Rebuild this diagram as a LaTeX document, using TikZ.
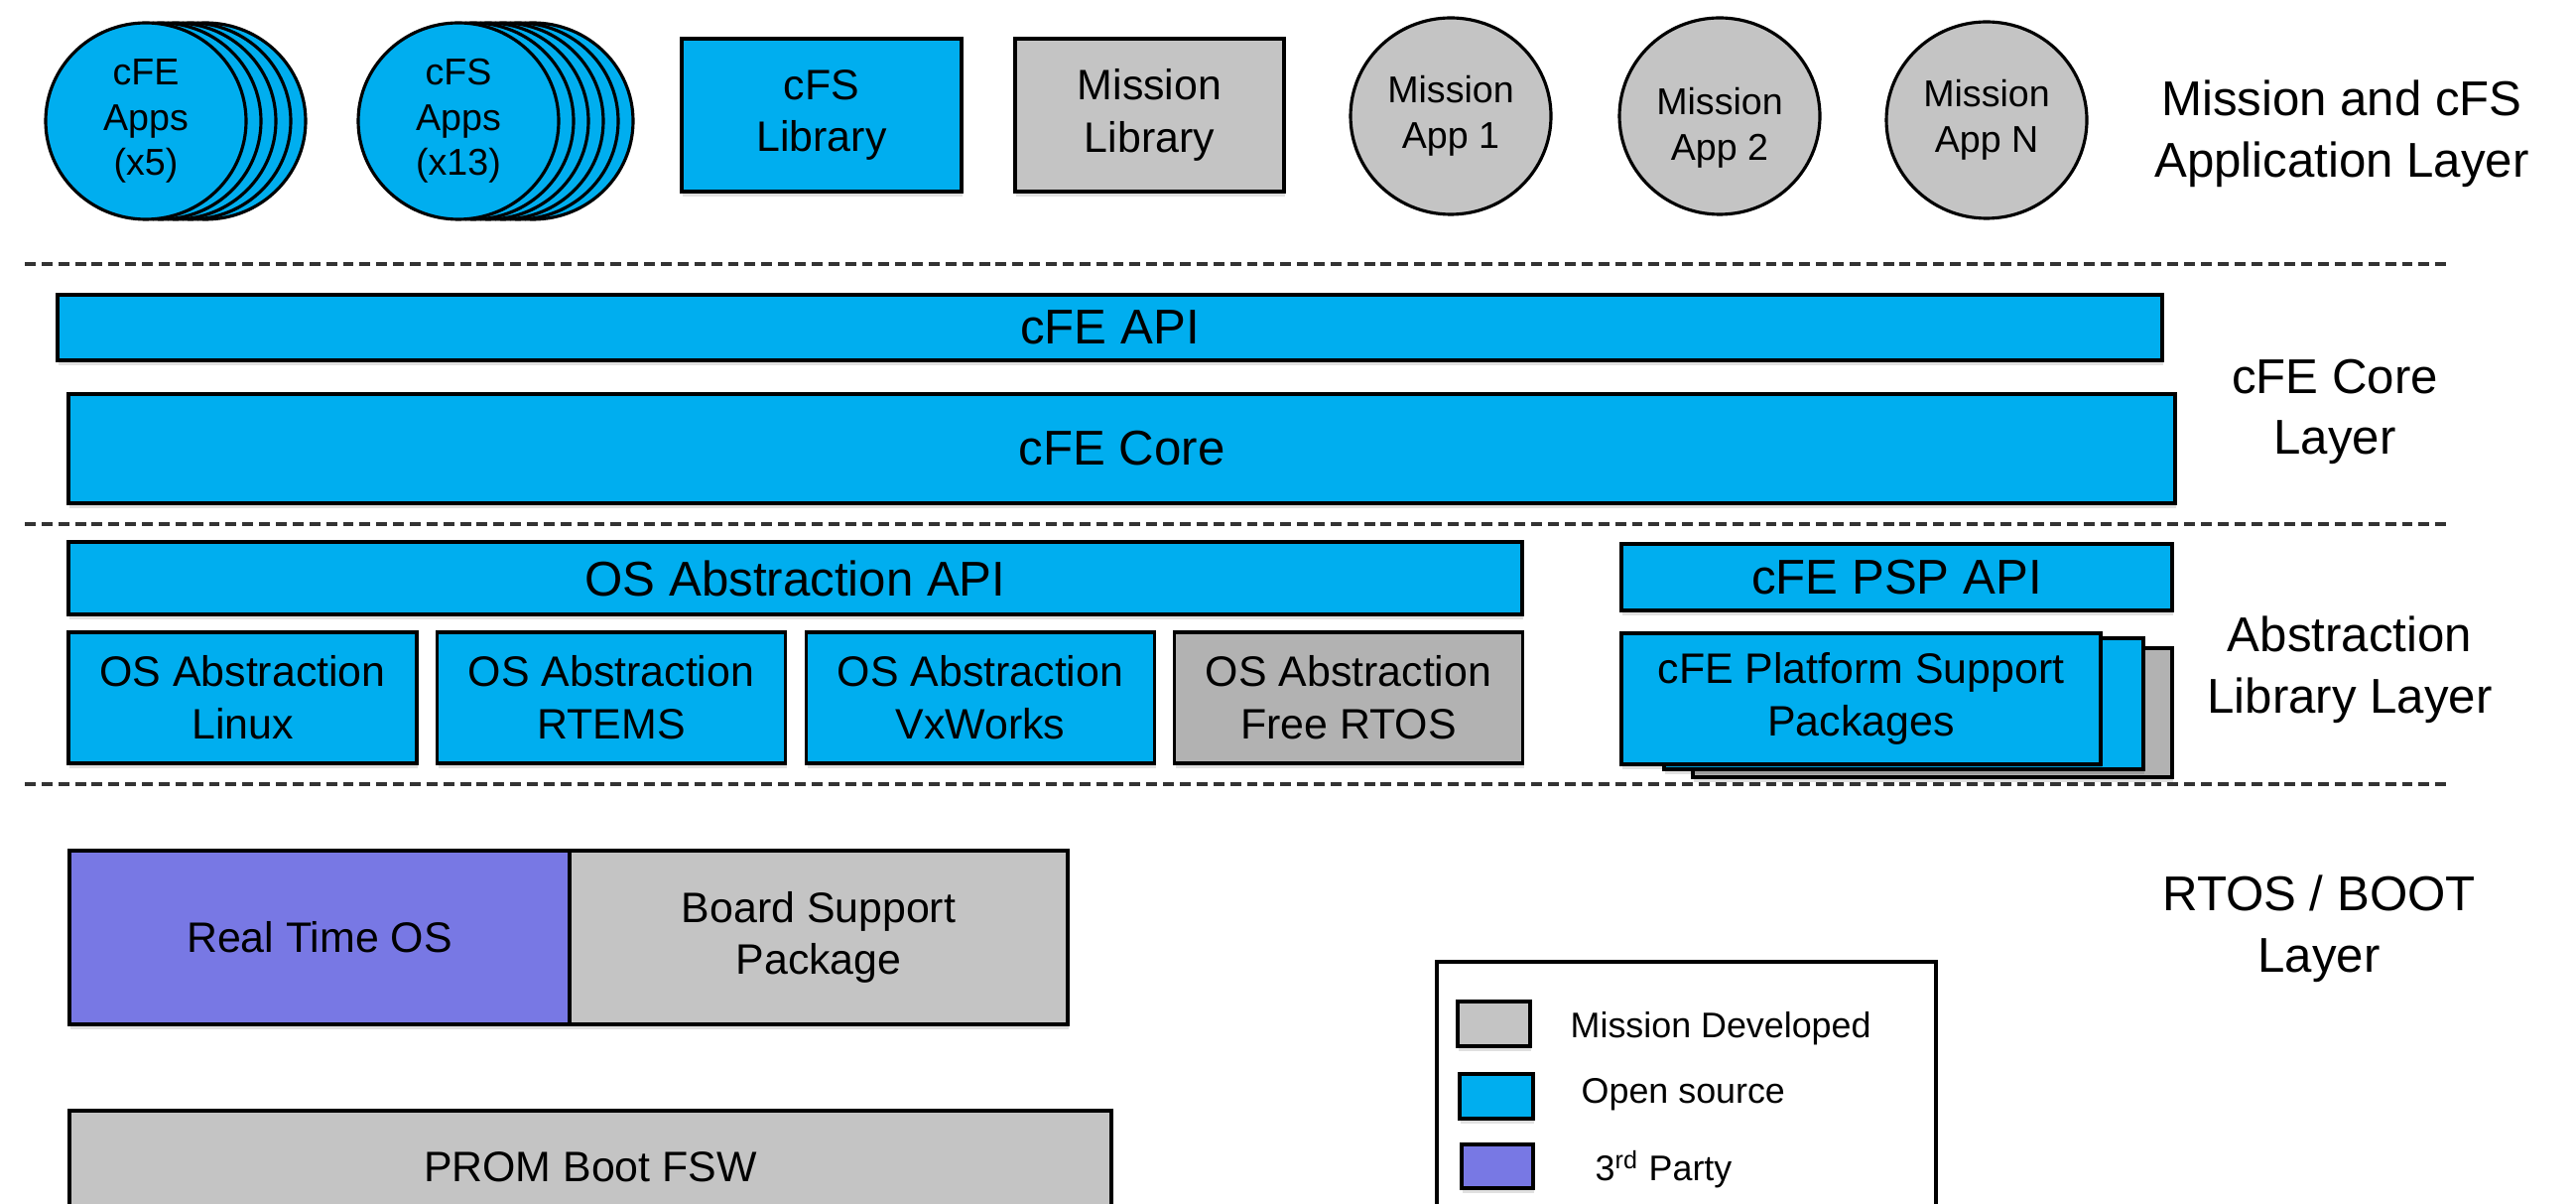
\documentclass[tikz,border=0pt]{standalone}
\usepackage{fontspec}
\setmainfont{Liberation Sans}
\usetikzlibrary{shapes.geometric,shadows}

\definecolor{osblue}{HTML}{00AEEF}
\definecolor{misgray}{HTML}{C4C4C4}
\definecolor{darkgray}{HTML}{B2B2B2}
\definecolor{tpurple}{HTML}{7878E4}

\tikzset{
  blk/.style={draw=black,line width=0.9pt,rectangle,inner sep=0pt,align=center,
    drop shadow={shadow xshift=0.4pt,shadow yshift=-1.4pt,fill=black,opacity=.12}},
  app/.style={draw=black,line width=0.9pt,ellipse,inner sep=0pt,align=center,
    minimum width=2.02cm,minimum height=1.98cm,font=\fontsize{10.7}{13}\selectfont},
  bigtxt/.style={font=\fontsize{14}{17.5}\selectfont},
  midtxt/.style={font=\fontsize{12.2}{15}\selectfont},
  legtxt/.style={font=\fontsize{10.2}{12}\selectfont},
  sep/.style={dashed,dash pattern=on 3.1pt off 1.7pt,line width=0.9pt,black!80},
}

\begin{document}
\begin{tikzpicture}[x=1cm,y=1cm]
\useasboundingbox (0,0) rectangle (25.96,-12.13);
\clip (0,0) rectangle (25.96,-12.13);

% application layer
\foreach \k in {4,3,2,1}
  \filldraw[fill=osblue,draw=black,line width=0.9pt] (1.47+0.15*\k,-1.22) ellipse [x radius=1.01,y radius=0.99];
\node[app,fill=osblue] (cfeapps) at (1.47,-1.22) {cFE\\Apps\\(x5)};
\foreach \k in {5,4,3,2,1}
  \filldraw[fill=osblue,draw=black,line width=0.9pt] (4.62+0.15*\k,-1.22) ellipse [x radius=1.01,y radius=0.99];
\node[app,fill=osblue] (cfsapps) at (4.62,-1.22) {cFS\\Apps\\(x13)};
\node[blk,fill=osblue,midtxt,minimum width=2.82cm,minimum height=1.54cm] (cfslib) at (8.28,-1.16) {cFS\\Library};
\node[blk,fill=misgray,midtxt,minimum width=2.71cm,minimum height=1.54cm] (mislib) at (11.585,-1.16) {Mission\\Library};
\node[app,fill=misgray] (app1) at (14.62,-1.17) {Mission\\App 1};
\node[app,fill=misgray] (app2) at (17.33,-1.17)
  {\raisebox{-3.5pt}[\height][\depth]{\begin{tabular}{@{}c@{}}Mission\\App 2\end{tabular}}};
\node[app,fill=misgray] (appn) at (20.02,-1.21) {Mission\\App N};
\node[bigtxt,align=center] (lyrapp) at (23.60,-1.35) {Mission and cFS\\Application Layer};

\draw[sep] (0.25,-2.66) -- (24.65,-2.66);

% cFE core layer
\node[blk,fill=osblue,bigtxt,minimum width=21.21cm,minimum height=0.66cm] (cfeapi) at (11.185,-3.30) {cFE API};
\node[blk,fill=osblue,bigtxt,minimum width=21.23cm,minimum height=1.10cm] (cfecore) at (11.305,-4.52) {cFE Core};
\node[bigtxt,align=center] (lyrcore) at (23.53,-4.15) {cFE Core\\Layer};

\draw[sep] (0.25,-5.28) -- (24.65,-5.28);

% abstraction library layer
\node[blk,fill=osblue,bigtxt,minimum width=14.65cm,minimum height=0.73cm] (osapi) at (8.015,-5.825) {OS Abstraction API};
\node[blk,fill=osblue,bigtxt,minimum width=5.55cm,minimum height=0.67cm] (pspapi) at (19.115,-5.815) {cFE PSP API};
\node[blk,fill=osblue,midtxt,minimum width=3.51cm,minimum height=1.32cm] (oslinux) at (2.445,-7.03) {OS Abstraction\\Linux};
\node[blk,fill=osblue,midtxt,minimum width=3.51cm,minimum height=1.32cm] (osrtems) at (6.16,-7.03) {OS Abstraction\\RTEMS};
\node[blk,fill=osblue,midtxt,minimum width=3.51cm,minimum height=1.32cm] (osvx) at (9.88,-7.03) {OS Abstraction\\VxWorks};
\node[blk,fill=darkgray,midtxt,minimum width=3.51cm,minimum height=1.32cm] (osfree) at (13.59,-7.03) {OS Abstraction\\Free RTOS};
\node[blk,fill=darkgray,minimum width=4.83cm,minimum height=1.30cm] (psp3) at (19.475,-7.18) {};
\node[blk,fill=osblue,minimum width=4.83cm,minimum height=1.32cm] (psp2) at (19.185,-7.09) {};
\node[blk,fill=osblue,midtxt,minimum width=4.83cm,minimum height=1.32cm] (psp) at (18.755,-7.04) {cFE Platform Support\\Packages};
\node[bigtxt,align=center] (lyrabs) at (23.68,-6.75) {Abstraction\\Library Layer};

\draw[sep] (0.25,-7.90) -- (24.65,-7.90);

% rtos / boot layer
\node[blk,fill=tpurple,midtxt,minimum width=5.04cm,minimum height=1.75cm] (rtos) at (3.22,-9.445) {Real Time OS};
\node[blk,fill=misgray,midtxt,minimum width=5.02cm,minimum height=1.75cm] (bsp) at (8.25,-9.445) {Board Support\\Package};
\node[blk,fill=misgray,midtxt,minimum width=10.50cm,minimum height=1.14cm] (prom) at (5.95,-11.76) {PROM Boot FSW};
\node[bigtxt,align=center] (lyrrtos) at (23.37,-9.36) {RTOS / BOOT\\Layer};

% legend
\draw[line width=0.9pt,fill=white] (14.48,-12.50) rectangle (19.51,-9.69);
\node[blk,fill=misgray,minimum width=0.73cm,minimum height=0.45cm] (keymis) at (15.055,-10.315) {};
\node[blk,fill=osblue,minimum width=0.74cm,minimum height=0.45cm] (keyos) at (15.08,-11.045) {};
\node[blk,fill=tpurple,minimum width=0.72cm,minimum height=0.44cm] (keytp) at (15.09,-11.75) {};
\node[legtxt,anchor=west,inner sep=0pt] (txtmis) at (15.82,-10.36) {Mission Developed};
\node[legtxt,anchor=west,inner sep=0pt] (txtos) at (15.93,-11.03) {Open source};
\node[legtxt,anchor=west,inner sep=0pt] (txttp) at (16.07,-11.78) {3\textsuperscript{rd} Party};
\end{tikzpicture}
\end{document}
